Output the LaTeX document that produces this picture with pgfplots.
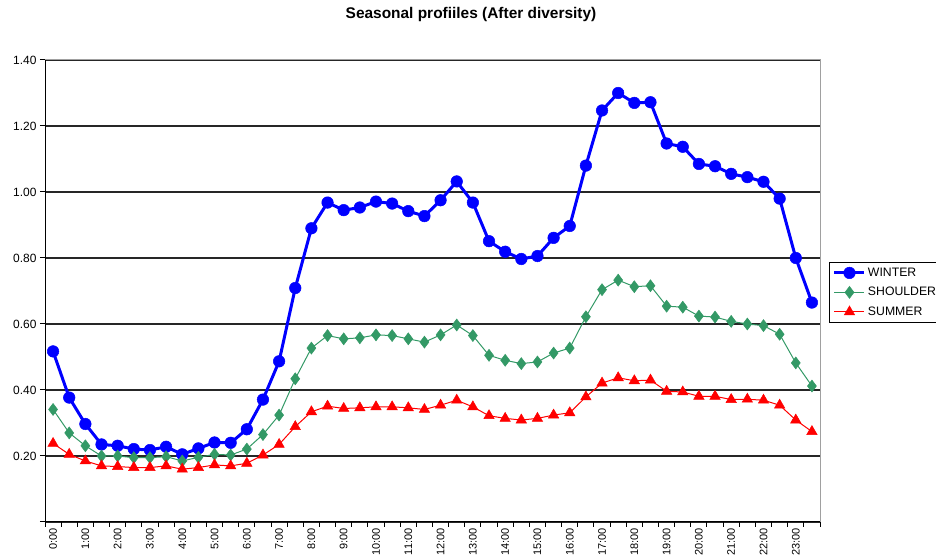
\documentclass[border=0pt]{standalone}
\usepackage{fontspec}
\setmainfont{Liberation Sans}
\usepackage{pgfplots}
\pgfplotsset{compat=1.18}
\usepackage{pgfplotstable}

\definecolor{winterblue}{RGB}{0,0,255}
\definecolor{shouldergreen}{RGB}{51,153,102}
\definecolor{summerred}{RGB}{255,0,0}
\definecolor{framegray}{RGB}{160,160,160}

% Half-hourly load profiles, slot 0 = 0:00 ... slot 47 = 23:30
\pgfplotstableread{
idx winter shoulder summer
0  0.517 0.341 0.238
1  0.377 0.270 0.205
2  0.297 0.231 0.185
3  0.235 0.200 0.170
4  0.231 0.200 0.168
5  0.221 0.195 0.165
6  0.218 0.195 0.165
7  0.228 0.198 0.170
8  0.205 0.185 0.160
9  0.223 0.196 0.165
10 0.241 0.205 0.173
11 0.240 0.203 0.170
12 0.281 0.221 0.178
13 0.371 0.265 0.203
14 0.487 0.324 0.235
15 0.709 0.434 0.289
16 0.890 0.527 0.334
17 0.968 0.565 0.351
18 0.945 0.555 0.344
19 0.953 0.558 0.346
20 0.971 0.567 0.349
21 0.965 0.565 0.349
22 0.942 0.555 0.346
23 0.927 0.545 0.341
24 0.975 0.567 0.354
25 1.032 0.597 0.369
26 0.968 0.565 0.349
27 0.851 0.505 0.322
28 0.819 0.490 0.314
29 0.797 0.480 0.309
30 0.806 0.485 0.314
31 0.861 0.512 0.324
32 0.897 0.527 0.331
33 1.080 0.622 0.379
34 1.247 0.704 0.421
35 1.300 0.733 0.437
36 1.270 0.713 0.428
37 1.272 0.716 0.430
38 1.147 0.654 0.396
39 1.137 0.651 0.394
40 1.085 0.624 0.381
41 1.078 0.621 0.381
42 1.055 0.608 0.371
43 1.045 0.600 0.372
44 1.031 0.595 0.369
45 0.980 0.569 0.354
46 0.800 0.482 0.309
47 0.665 0.412 0.274
}\profiles

\begin{document}
\begin{tikzpicture}
\begin{axis}[
  at={(45bp,34bp)}, anchor=south west,
  scale only axis, width=775bp, height=462bp,
  xmin=-0.5, xmax=47.5, ymin=0, ymax=1.4,
  axis line style={framegray, line width=1bp},
  tick style={black, line width=1bp},
  tick align=outside,
  major tick length=5bp,
  xtick pos=bottom, ytick pos=left,
  % category boundaries carry the tick marks
  xtick={-0.5,0.5,...,47.5},
  xticklabels={},
  % hour labels sit on the category centres
  extra x ticks={0,2,...,46},
  extra x tick labels={0:00,1:00,2:00,3:00,4:00,5:00,6:00,7:00,8:00,9:00,10:00,11:00,12:00,13:00,14:00,15:00,16:00,17:00,18:00,19:00,20:00,21:00,22:00,23:00},
  extra x tick style={major tick length=0pt, xticklabel shift=3bp,
    tick label style={rotate=90, anchor=east, font=\fontsize{11}{12}\selectfont}},
  ytick={0,0.2,0.4,0.6,0.8,1.0,1.2,1.4},
  yticklabels={,0.20,0.40,0.60,0.80,1.00,1.20,1.40},
  yticklabel style={font=\fontsize{12}{14}\selectfont},
  ymajorgrids,
  major grid style={black!85, line width=1.1bp},
  title={Seasonal profiiles (After diversity)},
  title style={at={(0.5497,1.10)}, anchor=center, yshift=-7bp,
    font=\bfseries\fontsize{15.5}{18}\selectfont},
  legend style={at={(1.0116,0.5628)}, anchor=north west, draw=black, line width=1bp,
    fill=white, font=\fontsize{12.3}{14}\selectfont, row sep=5.5bp, inner sep=3.5bp,
    cells={anchor=west}},
  legend image code/.code={\draw[mark repeat=2, mark phase=2]
    plot coordinates {(0bp,0bp) (15bp,0bp) (30bp,0bp)};},
]
\addplot[winterblue, line width=3bp, mark=*, mark size=5.8bp,
  mark options={solid, fill=winterblue, draw=winterblue, line width=0.5bp}]
  table[x=idx, y=winter] {\profiles};
\addlegendentry{WINTER}
\addplot[shouldergreen, line width=1bp, mark=diamond*, mark size=6bp,
  mark options={solid, fill=shouldergreen, draw=shouldergreen, line width=0.5bp}]
  table[x=idx, y=shoulder] {\profiles};
\addlegendentry{SHOULDER}
\addplot[summerred, line width=1bp, mark=triangle*, mark size=6bp,
  mark options={solid, fill=summerred, draw=summerred, line width=0.5bp}]
  table[x=idx, y=summer] {\profiles};
\addlegendentry{SUMMER}
% left and bottom axis lines in black
\draw[black, line width=1.2bp] (rel axis cs:0,1) -- (rel axis cs:0,0) -- (rel axis cs:1,0);
\end{axis}
\pgfresetboundingbox
\path (0bp,0bp) rectangle (936bp,556bp);
\end{tikzpicture}
\end{document}
